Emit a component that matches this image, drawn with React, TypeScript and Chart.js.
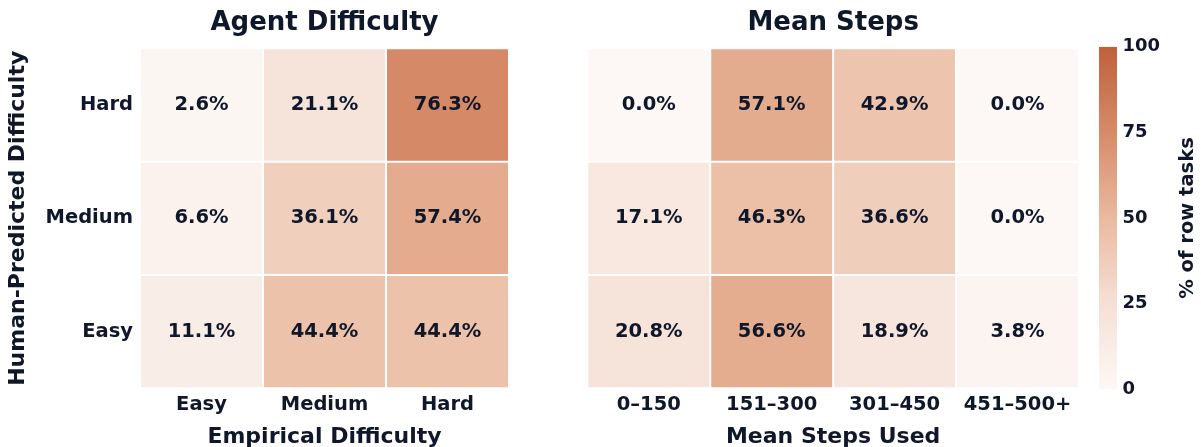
import React, { useEffect, useRef } from "react";
import { Chart, registerables } from "chart.js";

Chart.register(...registerables);

const FAMILY = "'DejaVu Sans', 'Liberation Sans', sans-serif";
const TEXT = "#0f172a";
Chart.defaults.font.family = FAMILY;

// ---------- data ----------
const empiricalLabels = ["Easy", "Medium", "Hard"];
const stepLabels = ["0–150", "151–300", "301–450", "451–500+"];
const humanLabels = ["Easy", "Medium", "Hard"]; // bottom → top

const agentEasy = [11.1, 44.4, 44.4];
const agentMedium = [6.6, 36.1, 57.4];
const agentHard = [2.6, 21.1, 76.3];

const stepsEasy = [20.8, 56.6, 18.9, 3.8];
const stepsMedium = [17.1, 46.3, 36.6, 0.0];
const stepsHard = [0.0, 57.1, 42.9, 0.0];

const colorbarTicks = [0, 25, 50, 75, 100];

// ---------- colour map ----------
const STOPS: [number, number[]][] = [
  [0, [253, 248, 246]],
  [0.25, [245, 224, 213]],
  [0.5, [234, 185, 159]],
  [0.75, [214, 139, 104]],
  [1, [191, 96, 59]],
];
function cmap(v: number): string {
  const t = Math.max(0, Math.min(1, v / 100));
  for (let i = 0; i < STOPS.length - 1; i++) {
    const [t0, c0] = STOPS[i];
    const [t1, c1] = STOPS[i + 1];
    if (t <= t1) {
      const f = (t - t0) / (t1 - t0);
      const c = c0.map((a, k) => Math.round(a + (c1[k] - a) * f));
      return `rgb(${c[0]},${c[1]},${c[2]})`;
    }
  }
  const c = STOPS[STOPS.length - 1][1];
  return `rgb(${c[0]},${c[1]},${c[2]})`;
}

function heatDatasets(rows: number[][]) {
  return rows.map((vals, r) => ({
    label: humanLabels[r],
    data: vals.map(() => [r, r + 1]),
    values: vals,
    backgroundColor: vals.map(cmap),
    borderColor: "#ffffff",
    borderWidth: 1,
    borderSkipped: false,
    barPercentage: 1,
    categoryPercentage: 1,
    grouped: false,
    inflateAmount: 0,
  }));
}

const cellText = {
  id: "cellText",
  afterDatasetsDraw(chart: any) {
    const ctx = chart.ctx;
    ctx.save();
    ctx.font = `bold 19.5px ${FAMILY}`;
    ctx.fillStyle = TEXT;
    ctx.textAlign = "center";
    ctx.textBaseline = "middle";
    chart.data.datasets.forEach((ds: any, i: number) => {
      const meta = chart.getDatasetMeta(i);
      meta.data.forEach((el: any, j: number) => {
        const { x, y, base } = el.getProps(["x", "y", "base"], true);
        ctx.fillText(ds.values[j].toFixed(1) + "%", x, (y + base) / 2);
      });
    });
    ctx.restore();
  },
};

const tickFont = { size: 19.5, weight: "bold" as const, family: FAMILY };

function heatConfig(
  labels: string[],
  rows: number[][],
  title: string,
  xTitle: string,
  showY: boolean,
  padLeft: number,
  padRight: number
): any {
  return {
    type: "bar",
    data: { labels, datasets: heatDatasets(rows) },
    options: {
      animation: false,
      responsive: false,
      events: [],
      layout: { padding: { left: padLeft, right: padRight, top: 0, bottom: 0 } },
      plugins: {
        legend: { display: false },
        tooltip: { enabled: false },
        title: {
          display: true,
          text: title,
          color: TEXT,
          fullSize: false,
          font: { size: 26, weight: "bold", family: FAMILY, lineHeight: 1.2 },
          padding: { top: 7.9, bottom: 9.2 },
        },
      },
      scales: {
        x: {
          type: "category",
          grid: { display: false, drawTicks: false },
          border: { display: false },
          ticks: { color: TEXT, font: tickFont, padding: 5, maxRotation: 0, autoSkip: false },
          title: {
            display: true,
            text: xTitle,
            color: TEXT,
            font: { size: 22, weight: "bold", family: FAMILY, lineHeight: 1 },
            padding: { top: 0, bottom: -1.5 },
          },
          afterFit: (s: any) => {
            s.height = 58.7;
          },
        },
        y: {
          type: "linear",
          display: showY,
          min: 0,
          max: 3,
          afterBuildTicks: (s: any) => {
            s.ticks = humanLabels.map((_, i) => ({ value: i + 0.5 }));
          },
          grid: { display: false, drawTicks: false },
          border: { display: false },
          ticks: {
            color: TEXT,
            font: tickFont,
            padding: 7,
            callback: (v: any) => humanLabels[Math.floor(Number(v))],
          },
          title: {
            display: true,
            text: "Human-Predicted Difficulty",
            color: TEXT,
            font: { size: 22, weight: "bold", family: FAMILY, lineHeight: 1.2 },
            padding: { top: 5.2, bottom: 0 },
          },
          afterFit: (s: any) => {
            s.width = showY ? 140 : 0;
          },
        },
      },
    },
    plugins: [cellText],
  };
}

const colorbarLabel = {
  id: "colorbarLabel",
  afterDraw(chart: any) {
    const ctx = chart.ctx;
    ctx.save();
    ctx.translate(98, 218);
    ctx.rotate(-Math.PI / 2);
    ctx.font = `bold 19.5px ${FAMILY}`;
    ctx.fillStyle = TEXT;
    ctx.textAlign = "center";
    ctx.textBaseline = "middle";
    ctx.fillText("% of row tasks", 0, 0);
    ctx.restore();
  },
};

function colorbarConfig(): any {
  return {
    type: "bar",
    data: {
      labels: ["scale"],
      datasets: [
        {
          data: [[colorbarTicks[0], colorbarTicks[colorbarTicks.length - 1]]],
          backgroundColor: (c: any) => {
            const chart = c.chart;
            if (!chart.chartArea) return cmap(50);
            const y = chart.scales.y;
            const g = chart.ctx.createLinearGradient(0, y.getPixelForValue(0), 0, y.getPixelForValue(100));
            STOPS.forEach(([t, rgb]) => g.addColorStop(t, `rgb(${rgb[0]},${rgb[1]},${rgb[2]})`));
            return g;
          },
          borderWidth: 0,
          barPercentage: 1,
          categoryPercentage: 1,
          inflateAmount: 0,
        },
      ],
    },
    options: {
      animation: false,
      responsive: false,
      events: [],
      layout: { padding: { left: 9, right: 0, top: 46.7, bottom: 58 } },
      plugins: { legend: { display: false }, tooltip: { enabled: false }, title: { display: false } },
      scales: {
        x: { display: false },
        y: {
          type: "linear",
          position: "right",
          min: 0,
          max: 100,
          afterBuildTicks: (s: any) => {
            s.ticks = colorbarTicks.map((v) => ({ value: v }));
          },
          grid: { display: false, drawTicks: false },
          border: { display: false },
          ticks: { color: TEXT, font: { size: 18, weight: "bold", family: FAMILY }, padding: 5.5 },
          afterFit: (s: any) => {
            s.width = 84;
          },
        },
      },
    },
    plugins: [colorbarLabel],
  };
}

export default function App() {
  const leftRef = useRef<HTMLCanvasElement>(null);
  const rightRef = useRef<HTMLCanvasElement>(null);
  const barRef = useRef<HTMLCanvasElement>(null);

  useEffect(() => {
    const c1 = new Chart(
      leftRef.current!,
      heatConfig(empiricalLabels, [agentEasy, agentMedium, agentHard], "Agent Difficulty", "Empirical Difficulty", true, 0, 36)
    );
    const c2 = new Chart(
      rightRef.current!,
      heatConfig(stepLabels, [stepsEasy, stepsMedium, stepsHard], "Mean Steps", "Mean Steps Used", false, 42.3, 11)
    );
    const c3 = new Chart(barRef.current!, colorbarConfig());
    return () => {
      c1.destroy();
      c2.destroy();
      c3.destroy();
    };
  }, []);

  const abs = (left: number, width: number): React.CSSProperties => ({
    position: "absolute",
    left,
    top: 0,
    width,
    height: 447,
  });

  return (
    <div style={{ position: "fixed", left: 0, top: 0, width: 1201, height: 447, background: "#ffffff" }}>
      <canvas ref={leftRef} width={545} height={447} style={abs(0, 545)} />
      <canvas ref={rightRef} width={545} height={447} style={abs(545, 545)} />
      <canvas ref={barRef} width={111} height={447} style={abs(1090, 111)} />
    </div>
  );
}
